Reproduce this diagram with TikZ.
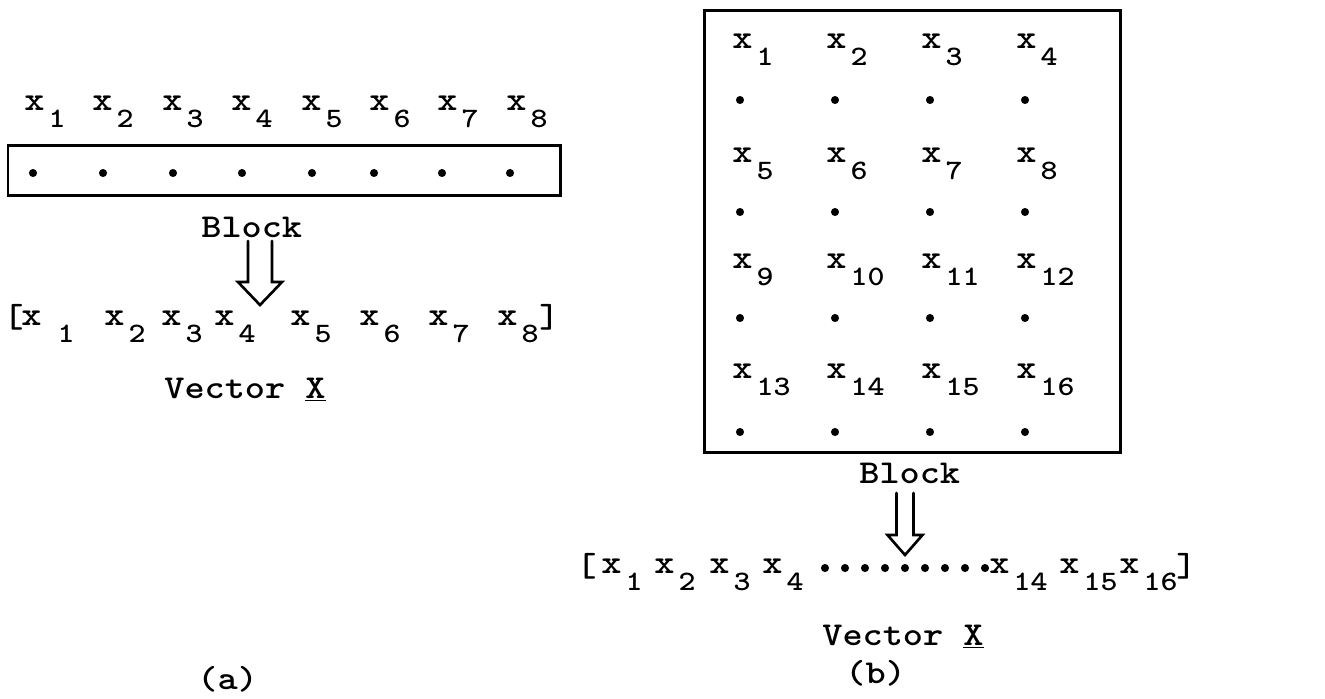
\documentclass[tikz,border=0pt]{standalone}
\usepackage{graphicx}
\usetikzlibrary{calc}

\newcommand{\tw}[1]{\scalebox{1.15}[1]{#1}}
\newcommand{\xs}[2][2pt]{\tw{x\kern#1\raisebox{-10pt}{\fontsize{16}{16}\selectfont #2}}}

\tikzset{
  typed/.style={font=\ttfamily\bfseries\fontsize{19}{22}\selectfont, inner sep=0pt, anchor=base west},
  boxline/.style={line width=1.7pt},
  dblarrow/.style n args={3}{line width=1.5pt, line join=miter, to path={
      ($(\tikztostart)+(-#1,0)$) -- ($(\tikztostart |- \tikztotarget)+(-#1,-#3)$)
      -- ($(\tikztostart |- \tikztotarget)+(-#2,-#3)$) -- (\tikztostart |- \tikztotarget)
      -- ($(\tikztostart |- \tikztotarget)+(#2,-#3)$) -- ($(\tikztostart |- \tikztotarget)+(#1,-#3)$)
      -- ($(\tikztostart)+(#1,0)$)}}
}

\begin{document}
\begin{tikzpicture}[x=0.02cm, y=-0.02cm, line cap=round]
  \useasboundingbox (0,0) rectangle (1325,698);
  % ===== (a): one row of eight samples =====
  \foreach \i/\px in {1/24,2/92,3/162,4/231,5/301,6/369,7/437,8/506}
    \node[typed] (ta\i) at (\px,110) {\xs{\i}};
  \draw[boxline] (8,145) rectangle (560,195);
  \foreach \px in {33,103,173,242,312,374,442,510}
    \fill (\px,173) circle (2.3pt);
  \node[typed] (blka) at (201,237) {\tw{Block}};
  \coordinate (srca) at (260,241);
  \coordinate (tipa) at (260,305);
  \draw[dblarrow={12}{22}{23}] (srca) to (tipa);
  % vector of (a)
  \node[typed] (lbra) at (3,327) {\tw{[}};
  \node[typed] (va1) at (21,325) {\xs[8pt]{1}};
  \foreach \i/\px in {2/104,3/161,4/214,5/290,6/359,7/428,8/497}
    \node[typed] (va\i) at (\px,325) {\xs{\i}};
  \node[typed] (rbra) at (539,327) {\tw{]}};
  \node[typed] (veca) at (164,398) {\tw{Vector \underline{X}}};
  \node[typed] (capa) at (197,689) {\tw{(a)}};
  % ===== (b): four by four block =====
  \draw[boxline] (704,10) rectangle (1120,452);
  \foreach \r/\py in {0/48,1/162,2/268,3/378}
    \foreach \c/\px in {1/732,2/826,3/921,4/1016}{
      \pgfmathtruncatemacro\k{4*\r+\c}
      \node[typed] (mb\k) at (\px,\py) {\xs{\k}};
    }
  \foreach \py in {100,212,318,432}
    \foreach \px in {740,835,930,1025}
      \fill (\px,\py) circle (2.3pt);
  \node[typed] (blkb) at (859,483) {\tw{Block}};
  \coordinate (srcb) at (905,493);
  \coordinate (tipb) at (905,555);
  \draw[dblarrow={8.5}{17.5}{20}] (srcb) to (tipb);
  % vector of (b)
  \node[typed] (lbrb) at (576,576) {\tw{[}};
  \foreach \i/\px in {1/601,2/654,3/709,4/762}
    \node[typed] (vb\i) at (\px,573) {\xs{\i}};
  \foreach \k in {0,...,8}
    \fill ({825+20*\k},568) circle (2.3pt);
  \foreach \i/\px in {14/989,15/1059,16/1119}
    \node[typed] (vb\i) at (\px,573) {\xs{\i}};
  \node[typed] (rbrb) at (1176,576) {\tw{]}};
  \node[typed] (vecb) at (822,645) {\tw{Vector \underline{X}}};
  \node[typed] (capb) at (845,683) {\tw{(b)}};
\end{tikzpicture}
\end{document}
